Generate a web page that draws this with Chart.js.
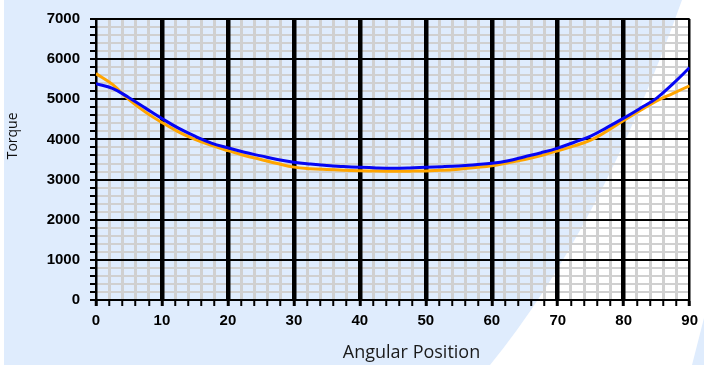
<!DOCTYPE html>
<html>
<head>
<meta charset="utf-8">
<script src="https://cdn.jsdelivr.net/npm/chart.js@4/dist/chart.umd.min.js"></script>
<style>
  html, body { margin: 0; padding: 0; background: #ffffff; }
  #wrap { width: 704px; height: 365px; position: relative; }
</style>
</head>
<body>
<div id="wrap"><canvas id="c" width="704" height="365"></canvas></div>
<script>
// ---- data ----
const angles = [0, 2.5, 5, 7.5, 10, 12.5, 15, 17.5, 20, 22.5, 25, 27.5, 30, 32.5, 35, 37.5, 40, 42.5, 45,
                47.5, 50, 52.5, 55, 57.5, 60, 62.5, 65, 67.5, 70, 72.5, 75, 77.5, 80, 82.5, 85, 87.5, 90];
const blueTorque = [5390, 5270, 5040, 4780, 4520, 4280, 4080, 3910, 3790, 3680, 3590, 3500, 3430, 3385, 3350, 3325, 3305, 3290, 3283,
                    3290, 3305, 3320, 3340, 3370, 3405, 3470, 3570, 3670, 3785, 3930, 4085, 4300, 4530, 4775, 5030, 5390, 5790];
const orangeTorque = [5640, 5370, 4990, 4680, 4420, 4190, 4000, 3850, 3720, 3600, 3500, 3400, 3310, 3270, 3250, 3235, 3222, 3212, 3207,
                      3210, 3215, 3230, 3260, 3300, 3345, 3420, 3500, 3600, 3715, 3840, 3980, 4210, 4470, 4720, 4960, 5150, 5337];
const xMajorTicks = [0, 10, 20, 30, 40, 50, 60, 70, 80, 90];
const yMajorTicks = [0, 1000, 2000, 3000, 4000, 5000, 6000, 7000];
const xTitle = 'Angular Position';
const yTitle = 'Torque';

const toPoints = (xs, ys) => xs.map((x, i) => ({ x: x, y: ys[i] }));

// background decoration
const bgPlugin = {
  id: 'bg',
  beforeDraw(chart) {
    const ctx = chart.ctx;
    const w = chart.width, h = chart.height;
    ctx.save();
    ctx.fillStyle = '#ffffff';
    ctx.fillRect(0, 0, w, h);
    ctx.fillStyle = '#dfecfd';
    ctx.fillRect(4, 0, w - 4, h);
    ctx.fillStyle = '#ffffff';
    ctx.beginPath();
    ctx.moveTo(682, 0);
    ctx.lineTo(w, 0);
    ctx.lineTo(w, 318);
    ctx.lineTo(692, h);
    ctx.lineTo(490, h);
    ctx.quadraticCurveTo(600, 230, 682, 0);
    ctx.closePath();
    ctx.fill();
    ctx.restore();
  }
};

const isMajorX = v => xMajorTicks.includes(v);
const isMajorY = v => yMajorTicks.includes(v);
const CLEAR = 'rgba(0,0,0,0)';
const GRAY = '#d0d0d0';

new Chart(document.getElementById('c'), {
  type: 'line',
  data: {
    datasets: [
      { label: 'Series 1', data: toPoints(angles, blueTorque), xAxisID: 'x', yAxisID: 'y', borderColor: '#0606f4', borderWidth: 3, pointRadius: 0, tension: 0.4, fill: false },
      { label: 'Series 2', data: toPoints(angles, orangeTorque), xAxisID: 'x', yAxisID: 'y', borderColor: '#ffa500', borderWidth: 3, pointRadius: 0, tension: 0.4, fill: false }
    ]
  },
  options: {
    responsive: false,
    animation: false,
    layout: { padding: { top: 17, right: 9, left: 0, bottom: 0 } },
    plugins: { legend: { display: false }, tooltip: { enabled: false } },
    scales: {
      xMinor: {
        type: 'linear', axis: 'x', position: 'bottom', min: 0, max: 90, z: -3,
        afterFit(s) { s.height = 0; },
        ticks: { stepSize: 2, autoSkip: false, display: false },
        grid: { color: c => (isMajorX(c.tick.value) ? CLEAR : GRAY), lineWidth: 3, drawTicks: false },
        border: { display: false }
      },
      yMinor: {
        type: 'linear', axis: 'y', position: 'left', min: 0, max: 7000, z: -3,
        afterFit(s) { s.width = 0; },
        ticks: { stepSize: 200, autoSkip: false, display: false },
        grid: { color: c => (isMajorY(c.tick.value) ? CLEAR : GRAY), lineWidth: 2, drawTicks: false },
        border: { display: false }
      },
      x: {
        type: 'linear', position: 'bottom', min: 0, max: 90, z: -2,
        afterFit(s) { s.height = 65; },
        ticks: {
          stepSize: 2, autoSkip: false, maxRotation: 0, padding: 6,
          color: '#000', font: { family: 'Liberation Sans', size: 15, weight: 'bold' },
          callback: v => (isMajorX(v) ? String(v) : '')
        },
        grid: {
          color: c => (isMajorX(c.tick.value) ? '#000000' : CLEAR),
          lineWidth: c => {
            const v = c.tick.value;
            if (v === 0 || v === 90) return 2.5;
            return 4.5;
          },
          tickColor: '#000000', tickWidth: c => (isMajorX(c.tick.value) ? 3 : 2), tickLength: 6
        },
        border: { display: true, color: '#000000', width: 2 },
        title: { display: true, text: '        ' + xTitle, color: '#1a1a1a', font: { family: 'Open Sans', size: 18 }, padding: { top: 0, bottom: 1 } }
      },
      y: {
        type: 'linear', position: 'left', min: 0, max: 7000, z: -2,
        afterFit(s) { s.width = 96; },
        ticks: {
          stepSize: 200, autoSkip: false, padding: 10,
          color: '#000', font: { family: 'Liberation Sans', size: 15, weight: 'bold' },
          callback: v => (isMajorY(v) ? String(v) : '')
        },
        grid: {
          color: c => (isMajorY(c.tick.value) ? '#000000' : CLEAR),
          lineWidth: 2,
          tickColor: '#000000', tickWidth: 2, tickLength: 6
        },
        border: { display: true, color: '#000000', width: 2 },
        title: { display: true, text: '             ' + yTitle, color: '#111111', font: { family: 'Open Sans', size: 14 }, padding: { top: 5, bottom: 4 } }
      }
    }
  },
  plugins: [bgPlugin]
});
</script>
</body>
</html>
